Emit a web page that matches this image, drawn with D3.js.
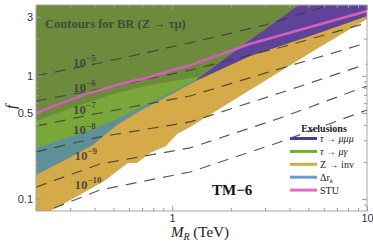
<!DOCTYPE html>
<html><head><meta charset="utf-8">
<script src="https://cdn.jsdelivr.net/npm/d3@7"></script>
<style>body{margin:0;background:#fff}svg{display:block}</style>
</head><body><svg id="c" width="373" height="245"></svg>
<script>
// ---------- data ----------
const xDomain = [0.2, 10];
const yDomain = [0.08, 3.75];
const xMajorTicks = [1, 10];
const xMinorTicks = [0.2,0.3,0.4,0.5,0.6,0.7,0.8,0.9,2,3,4,5,6,7,8,9];
const yMajorTicks = [0.1, 0.5, 1, 3];
const yMinorTicks = [0.09,0.2,0.3,0.4,0.6,0.7,0.8,0.9,2];

// STU exclusion boundary (pink line)
const stuM = [0.2, 0.35, 0.52, 0.77, 1.24, 2.5, 10];
const stuF = [0.5, 0.70, 0.84, 0.98, 1.22, 1.81, 3.35];

// tau -> mu gamma boundary (top of light green)
const mgM = [0.2, 0.349, 0.521, 0.77, 1.34];
const mgF = [0.43, 0.59, 0.725, 0.842, 0.977];

// Delta r_k boundary (top of blue band)
const drM = [0.2, 0.266, 0.379, 0.497, 0.77, 1.34];
const drF = [0.26, 0.301, 0.363, 0.43, 0.601, 0.94];

// Z -> inv upper boundary
const zinvTopM = [0.2, 0.295, 0.392, 0.521, 0.684, 0.975, 1.31, 2.51, 5.10, 10];
const zinvTopF = [0.157, 0.215, 0.275, 0.399, 0.518, 0.698, 0.90, 1.45, 2.10, 3.05];
// Z -> inv lower boundary (edge of white, allowed region)
const zinvLowM = [0.236, 0.321, 0.442, 0.593, 0.660, 0.770, 0.930, 1.059, 1.235, 2.51, 5.10, 10];
const zinvLowF = [0.08, 0.104, 0.138, 0.196, 0.196, 0.236, 0.269, 0.337, 0.384, 0.767, 1.53, 2.89];

// tau -> 3 mu region
const t3UpM = [1.31, 2.51, 4.48];
const t3UpF = [0.907, 1.95, 3.75];
const t3LowM = [1.31, 2.51, 5.10, 10];
const t3LowF = [0.907, 1.45, 2.10, 3.05];

// BR(Z -> tau mu) contours
const contourExp = [-5, -6, -7, -8, -9, -10];
const contourM = [
  [0.2, 0.426, 1.235, 3.00, 6.46],
  [0.2, 0.426, 1.235, 3.66, 10],
  [0.2, 0.426, 1.235, 3.00, 10],
  [0.2, 0.426, 1.235, 3.58, 10],
  [0.2, 0.426, 1.235, 3.58, 10],
  [0.2, 0.426, 1.235, 3.58, 10]
];
const contourF = [
  [1.00, 1.27, 1.85, 2.58, 3.75],
  [0.624, 0.781, 1.11, 1.71, 2.68],
  [0.391, 0.499, 0.685, 1.05, 1.85],
  [0.241, 0.319, 0.422, 0.725, 1.246],
  [0.125, 0.1925, 0.26, 0.454, 0.826],
  [0.074, 0.1185, 0.1658, 0.290, 0.528]
];
const labelM = [0.31, 0.31, 0.31, 0.31, 0.315, 0.315];
const labelF = [1.18, 0.739, 0.49, 0.337, 0.2075, 0.121];

const legendLabels = ["τ → μμμ", "τ → μγ", "Z → inv", "Δr", "STU"];
const legendColors = ["#4b3aa2", "#7aab2c", "#d4aa46", "#6b9bd2", "#e06fcb"];

// ---------- drawing ----------
const m = {l: 36, r: 367, t: 5, b: 211};
const svg = d3.select("#c");
const x = d3.scaleLog().domain(xDomain).range([m.l, m.r]);
const y = d3.scaleLog().domain(yDomain).range([m.b, m.t]);

svg.append("defs").append("clipPath").attr("id", "clip")
  .append("rect").attr("x", m.l).attr("y", m.t).attr("width", m.r - m.l).attr("height", m.b - m.t);
const g = svg.append("g").attr("clip-path", "url(#clip)");

const zip = (a, b) => a.map((v, i) => [v, b[i]]);
const areaDown = d3.area().x(d => x(d[0])).y0(m.b + 5).y1(d => y(d[1]));
const line = d3.line().x(d => x(d[0])).y(d => y(d[1]));

g.append("rect").attr("x", m.l).attr("y", m.t).attr("width", m.r - m.l).attr("height", m.b - m.t)
  .attr("fill", "#6d8b3d");
g.append("path").datum(zip(mgM, mgF)).attr("d", areaDown).attr("fill", "#7aa739");
g.append("path").datum(zip(drM, drF)).attr("d", areaDown).attr("fill", "#5f9097");
g.append("path").datum(zip(zinvTopM, zinvTopF)).attr("d", areaDown).attr("fill", "#d5aa48");
{
  const up = zip(t3UpM, t3UpF), low = zip(t3LowM, t3LowF);
  const pts = up.concat([[10, yDomain[1]]], low.slice().reverse());
  g.append("path").attr("d", line(pts) + "Z").attr("fill", "#5e4399");
}
{
  const low = zip(zinvLowM, zinvLowF);
  const pts = low.concat([[10, yDomain[0]], [0.236, yDomain[0]]]);
  g.append("path").attr("d", line(pts) + "Z").attr("fill", "#ffffff");
}
contourExp.forEach((e, i) => {
  g.append("path").datum(zip(contourM[i], contourF[i])).attr("d", line)
    .attr("fill", "none").attr("stroke", "#3c3c3c").attr("stroke-width", 1.2)
    .attr("stroke-dasharray", "11,8").attr("opacity", 0.85);
});
g.append("path").datum(zip(stuM, stuF)).attr("d", line)
  .attr("fill", "none").attr("stroke", "#d55ebd").attr("stroke-width", 2.6);

contourExp.forEach((e, i) => {
  const t = g.append("text").attr("x", x(labelM[i])).attr("y", y(labelF[i]))
    .attr("font-family", "Liberation Serif, serif").attr("font-weight", "bold")
    .attr("font-size", 13).attr("fill", "#3d3d3d").attr("opacity", 0.85);
  t.append("tspan").text("10");
  t.append("tspan").attr("dy", -5.5).attr("font-size", 9).text("−" + (-e));
});

g.append("text").attr("x", 45).attr("y", 28)
  .attr("font-family", "Liberation Serif, serif").attr("font-weight", "bold")
  .attr("font-size", 12.5).attr("fill", "#45483f")
  .text("Contours for BR (Z → τμ)");

svg.append("text").attr("x", 212).attr("y", 195)
  .attr("font-family", "Liberation Serif, serif").attr("font-weight", "bold")
  .attr("font-size", 15).attr("fill", "#111").text("TM−6");

svg.append("text").attr("x", 324).attr("y", 132).attr("text-anchor", "middle")
  .attr("font-family", "Liberation Serif, serif").attr("font-weight", "bold")
  .attr("font-size", 10).attr("fill", "#222").text("Exclusions");
legendLabels.forEach((lab, i) => {
  const yy = 138.5 + i * 12.9;
  svg.append("line").attr("x1", 290).attr("x2", 317).attr("y1", yy).attr("y2", yy)
    .attr("stroke", legendColors[i]).attr("stroke-width", 3);
  const t = svg.append("text").attr("x", 320).attr("y", yy + 3.5)
    .attr("font-family", "Liberation Serif, serif").attr("font-size", 10).attr("fill", "#222");
  if (i === 3) {
    t.append("tspan").text("Δr");
    t.append("tspan").attr("dy", 2.5).attr("font-size", 7).attr("font-style", "italic").text("k");
  } else if (i < 2) {
    t.append("tspan").attr("font-style", "italic").text(lab.split(" → ")[0]);
    t.append("tspan").text(" → ");
    t.append("tspan").attr("font-style", "italic").text(lab.split(" → ")[1]);
  } else {
    t.text(lab);
  }
});

const tickCol = "#999";
function styleAxis(sel) {
  sel.select(".domain").remove();
  sel.selectAll(".tick line").attr("stroke", tickCol);
  sel.selectAll("text").attr("fill", "#333").attr("font-family", "Liberation Sans, Arial, sans-serif").attr("font-size", 11);
}
const fmt = d => d3.format("")(d);
svg.append("g").attr("transform", `translate(0,${m.b})`)
  .call(d3.axisBottom(x).tickValues(xMajorTicks).tickSize(-5).tickPadding(3).tickFormat(fmt)).call(styleAxis);
svg.append("g").attr("transform", `translate(0,${m.b})`)
  .call(d3.axisBottom(x).tickValues(xMinorTicks).tickSize(-3).tickFormat("")).call(styleAxis);
svg.append("g").attr("transform", `translate(0,${m.t})`)
  .call(d3.axisTop(x).tickValues(xMajorTicks).tickSize(-5).tickFormat("")).call(styleAxis);
svg.append("g").attr("transform", `translate(0,${m.t})`)
  .call(d3.axisTop(x).tickValues(xMinorTicks).tickSize(-3).tickFormat("")).call(styleAxis);
svg.append("g").attr("transform", `translate(${m.l},0)`)
  .call(d3.axisLeft(y).tickValues(yMajorTicks).tickSize(-5).tickPadding(3).tickFormat(fmt)).call(styleAxis);
svg.append("g").attr("transform", `translate(${m.l},0)`)
  .call(d3.axisLeft(y).tickValues(yMinorTicks).tickSize(-3).tickFormat("")).call(styleAxis);
svg.append("g").attr("transform", `translate(${m.r},0)`)
  .call(d3.axisRight(y).tickValues(yMajorTicks).tickSize(-5).tickFormat("")).call(styleAxis);
svg.append("g").attr("transform", `translate(${m.r},0)`)
  .call(d3.axisRight(y).tickValues(yMinorTicks).tickSize(-3).tickFormat("")).call(styleAxis);

svg.append("rect").attr("x", m.l).attr("y", m.t).attr("width", m.r - m.l).attr("height", m.b - m.t)
  .attr("fill", "none").attr("stroke", "#a6a6a6").attr("stroke-width", 1);

const xl = svg.append("text").attr("x", 171).attr("y", 237)
  .attr("font-family", "Liberation Serif, serif").attr("font-size", 15).attr("fill", "#222");
xl.append("tspan").attr("font-style", "italic").text("M");
xl.append("tspan").attr("font-style", "italic").attr("font-size", 10).attr("dy", 3).text("R");
xl.append("tspan").attr("dy", -3).text(" (TeV)");

svg.append("text").attr("transform", "translate(16,107) rotate(-90)").attr("text-anchor", "middle")
  .attr("font-family", "Liberation Serif, serif").attr("font-style", "italic")
  .attr("font-size", 15).attr("fill", "#222").text("f");
</script>
</body></html>
